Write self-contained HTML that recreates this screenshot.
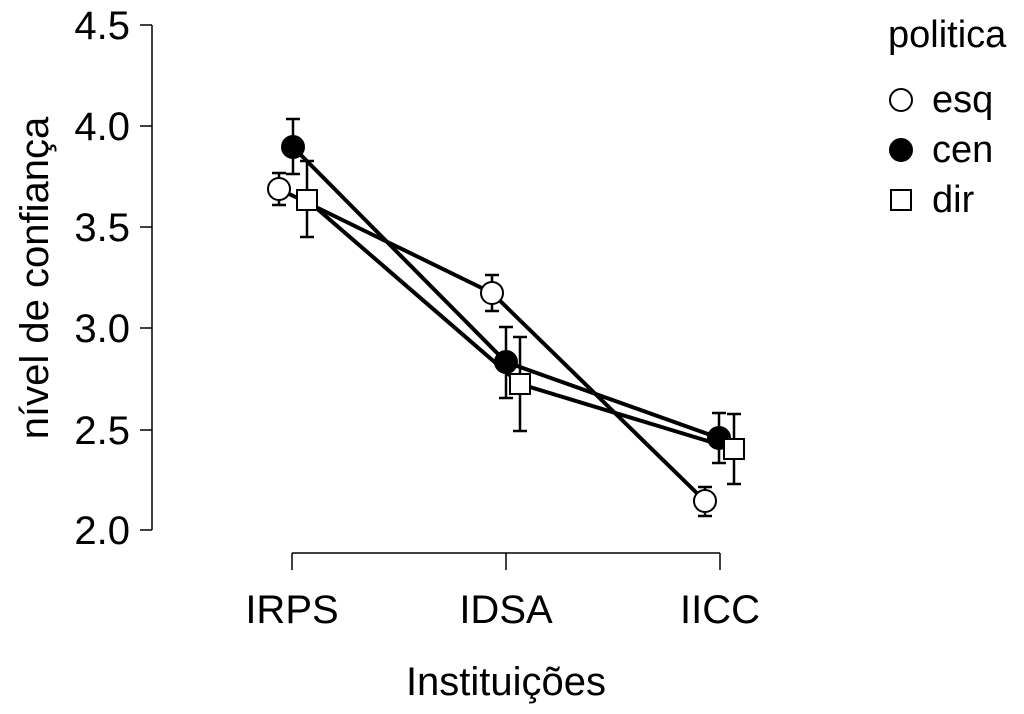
<!DOCTYPE html>
<html><head><style>body{margin:0;background:#fff}svg{display:block}text{font-family:"Liberation Sans",sans-serif;fill:#000}</style></head><body>
<svg width="1024" height="714" viewBox="0 0 1024 714">
<g stroke="#000" stroke-width="1.5" fill="none">
<line x1="152" y1="25" x2="152" y2="530"/>
<line x1="140" y1="25" x2="152" y2="25"/>
<line x1="140" y1="126" x2="152" y2="126"/>
<line x1="140" y1="227" x2="152" y2="227"/>
<line x1="140" y1="328" x2="152" y2="328"/>
<line x1="140" y1="430" x2="152" y2="430"/>
<line x1="140" y1="530" x2="152" y2="530"/>
<line x1="292" y1="553" x2="720" y2="553"/>
<line x1="292" y1="553" x2="292" y2="570"/>
<line x1="506" y1="553" x2="506" y2="570"/>
<line x1="720" y1="553" x2="720" y2="570"/>
</g>
<g font-size="40" text-anchor="end">
<text x="130" y="39">4.5</text><text x="130" y="140">4.0</text><text x="130" y="241">3.5</text><text x="130" y="342">3.0</text><text x="130" y="444">2.5</text><text x="130" y="544">2.0</text>
</g>
<g font-size="40" text-anchor="middle">
<text x="292" y="623">IRPS</text><text x="506" y="623">IDSA</text><text x="720" y="623">IICC</text>
<text x="506" y="695">Instituições</text>
<text transform="translate(48,278) rotate(-90)">nível de confiança</text>
</g>
<g stroke="#000" stroke-width="4" fill="none">
<polyline points="279,189 492,293 705,501"/>
<polyline points="293,147 506,362 719,438"/>
<polyline points="307,200 520,384 734,449"/>
</g>
<g stroke="#000" stroke-width="2.5">
<path d="M279,173V205M272,173H286M272,205H286"/>
<path d="M293,119V174M286,119H300M286,174H300"/>
<path d="M307,161V237M300,161H314M300,237H314"/>
<path d="M492,275V311M485,275H499M485,311H499"/>
<path d="M506,327V398M499,327H513M499,398H513"/>
<path d="M520,337V431M513,337H527M513,431H527"/>
<path d="M705,487V516M698,487H712M698,516H712"/>
<path d="M719,413V463M712,413H726M712,463H726"/>
<path d="M734,414V484M727,414H741M727,484H741"/>
</g>
<g stroke="#000" stroke-width="2">
<circle cx="279" cy="189" r="11" fill="#fff"/>
<circle cx="293" cy="147" r="11" fill="#000"/>
<rect x="297" y="190" width="20" height="20" fill="#fff"/>
<circle cx="492" cy="293" r="11" fill="#fff"/>
<circle cx="506" cy="362" r="11" fill="#000"/>
<rect x="510" y="374" width="20" height="20" fill="#fff"/>
<circle cx="705" cy="501" r="11" fill="#fff"/>
<circle cx="719" cy="438" r="11" fill="#000"/>
<rect x="724" y="439" width="20" height="20" fill="#fff"/>
</g>
<g font-size="38">
<text x="888" y="47">politica</text>
<text x="932" y="112">esq</text>
<text x="932" y="162">cen</text>
<text x="932" y="212">dir</text>
</g>
<g stroke="#000" stroke-width="2">
<circle cx="901" cy="100" r="11" fill="#fff"/>
<circle cx="901" cy="150" r="11" fill="#000"/>
<rect x="891" y="190" width="20" height="20" fill="#fff"/>
</g>
</svg>
</body></html>
